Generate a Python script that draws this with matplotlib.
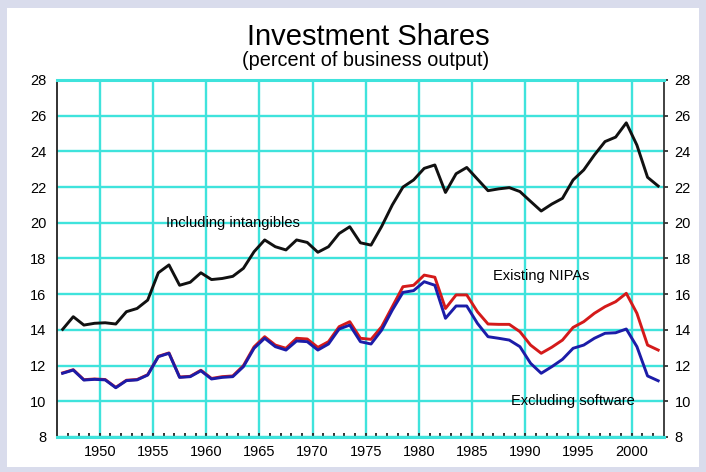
import numpy as np
import matplotlib
matplotlib.use("Agg")
import matplotlib.pyplot as plt
from matplotlib.patches import Rectangle

plt.rcParams['font.family'] = ['Liberation Sans', 'DejaVu Sans']

years = np.arange(1947, 2004)

# --- investment share, including intangibles
incl_intangibles = [14.03, 14.74, 14.27, 14.37, 14.40, 14.33, 15.02, 15.20, 15.67, 17.20,
                    17.64, 16.50, 16.67, 17.20, 16.82, 16.88, 17.00, 17.45, 18.38, 19.04,
                    18.66, 18.48, 19.04, 18.90, 18.35, 18.66, 19.40, 19.78, 18.88, 18.75,
                    19.80, 21.00, 22.00, 22.40, 23.05, 23.24, 21.70, 22.75, 23.10, 22.45,
                    21.80, 21.90, 21.97, 21.75, 21.20, 20.66, 21.05, 21.37, 22.40, 22.96,
                    23.80, 24.55, 24.80, 25.60, 24.35, 22.55, 22.06]

# --- existing NIPAs
existing_nipas = [11.59, 11.77, 11.21, 11.25, 11.22, 10.78, 11.18, 11.22, 11.49, 12.52,
                  12.71, 11.36, 11.40, 11.74, 11.28, 11.38, 11.42, 12.00, 13.05, 13.62,
                  13.15, 12.97, 13.53, 13.49, 13.02, 13.34, 14.18, 14.46, 13.53, 13.47,
                  14.18, 15.30, 16.42, 16.50, 17.07, 16.95, 15.20, 15.96, 15.96, 15.02,
                  14.33, 14.31, 14.31, 13.90, 13.15, 12.69, 13.03, 13.43, 14.14, 14.46,
                  14.93, 15.30, 15.58, 16.05, 14.93, 13.15, 12.87]

# --- existing NIPAs excluding software
excl_software = [11.57, 11.75, 11.19, 11.23, 11.20, 10.76, 11.16, 11.20, 11.47, 12.50,
                 12.69, 11.34, 11.38, 11.71, 11.25, 11.34, 11.38, 11.94, 12.97, 13.53,
                 13.06, 12.87, 13.38, 13.34, 12.87, 13.21, 14.05, 14.27, 13.34, 13.21,
                 13.99, 15.11, 16.10, 16.20, 16.70, 16.50, 14.65, 15.34, 15.34, 14.37,
                 13.62, 13.53, 13.43, 13.06, 12.13, 11.57, 11.94, 12.35, 12.97, 13.15,
                 13.53, 13.81, 13.84, 14.05, 13.06, 11.42, 11.15]

x_labels = ['1950', '1955', '1960', '1965', '1970', '1975', '1980', '1985', '1990', '1995', '2000']
y_ticks = np.arange(8, 29, 2)

grid_col = '#3fe3dc'

fig = plt.figure(figsize=(7.06, 4.72), dpi=100)
fig.patch.set_facecolor('#d9dcec')
fig.patches.append(Rectangle((7 / 706, 1 - 467 / 472), 692 / 706, 459 / 472,
                             transform=fig.transFigure, facecolor='white',
                             edgecolor='none', zorder=-5))

ax = fig.add_axes([57.3 / 706, 1 - 437 / 472, 606.2 / 706, 357 / 472])
ax.set_zorder(2)
ax.set_facecolor('white')

x = years - 0.5  # --- yearly values sit between the year grid lines
ax.plot(x, incl_intangibles, color='#111111', lw=2.1, zorder=4)
ax.plot(x, existing_nipas, color='#d41a1a', lw=2.1, zorder=4)
ax.plot(x, excl_software, color='#1c1ca8', lw=2.1, zorder=5)

ax.set_xlim(1946, 2003)
ax.set_ylim(8, 28)

ax.set_xticks([int(s) for s in x_labels])
ax.set_xticklabels(x_labels)
ax.set_xticks(np.arange(1947, 2003), minor=True)
ax.set_yticks(y_ticks)

ax.grid(True, which='major', color=grid_col, lw=1.7, zorder=1)
ax.set_axisbelow(True)

ax.tick_params(axis='x', which='both', direction='in', length=3, width=1.3,
               color='#222222', labelsize=10.5, pad=6, top=False)
ax.tick_params(axis='y', which='major', left=False, right=True, labelleft=True,
               labelright=True, direction='out', length=3, width=1.3,
               color='#333333', labelsize=10.5, pad=5)

for s in ['top', 'bottom']:
    ax.spines[s].set_color(grid_col)
    ax.spines[s].set_linewidth(2.2)
ax.spines['left'].set_color('#222222')
ax.spines['left'].set_linewidth(1.3)
ax.spines['right'].set_color('#333333')
ax.spines['right'].set_linewidth(1.3)

ax.text(1962.5, 20.0, 'Including intangibles', fontsize=10.5, ha='center', va='center', zorder=6)
ax.text(1991.5, 17.0, 'Existing NIPAs', fontsize=10.5, ha='center', va='center', zorder=6)
ax.text(1994.5, 10.0, 'Excluding software', fontsize=10.5, ha='center', va='center', zorder=6)

fig.text(368 / 706, 1 - 45 / 472, 'Investment Shares', fontsize=21, ha='center', va='baseline')
fig.text(366 / 706, 1 - 66 / 472, '(percent of business output)', fontsize=14.3, ha='center', va='baseline')

fig.savefig('out.png', dpi=100, facecolor=fig.get_facecolor())
